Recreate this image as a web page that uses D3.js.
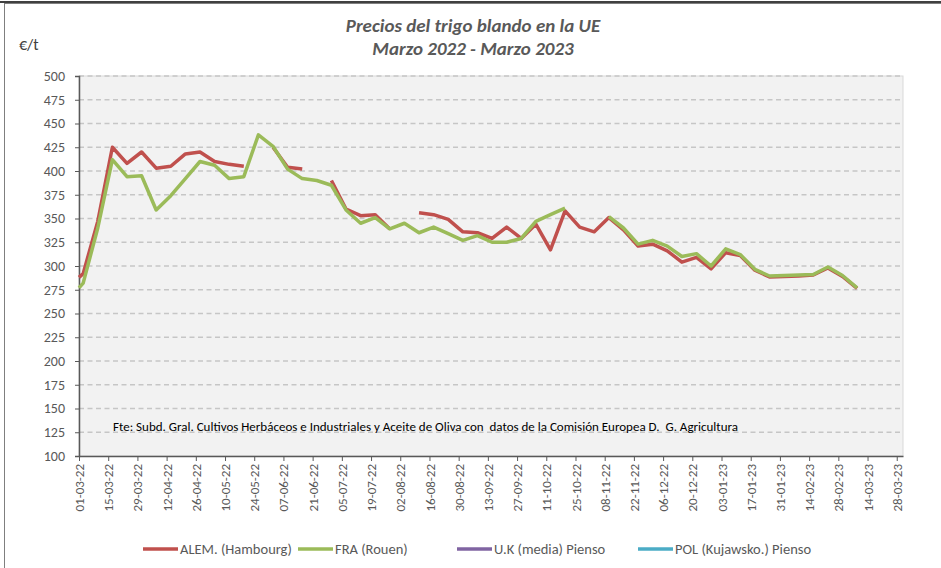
<!DOCTYPE html>
<html>
<head>
<meta charset="utf-8">
<script src="https://cdn.jsdelivr.net/npm/d3@7"></script>
<style>
  body { margin: 0; background: #fff; }
  svg { font-family: Carlito, Calibri, Lato, "Liberation Sans", sans-serif; }
</style>
</head>
<body>
<svg id="chart" width="941" height="568"></svg>
<script>
// Weekly quotations (dd-mm-yy)
const fechas = [
  "01-03-22", "03-03-22", "10-03-22", "17-03-22", "24-03-22", "31-03-22", "07-04-22",
  "14-04-22", "21-04-22", "28-04-22", "05-05-22", "12-05-22", "19-05-22", "26-05-22",
  "02-06-22", "09-06-22", "16-06-22", "23-06-22", "30-06-22", "07-07-22", "14-07-22",
  "21-07-22", "28-07-22", "04-08-22", "11-08-22", "18-08-22", "25-08-22", "01-09-22",
  "08-09-22", "15-09-22", "22-09-22", "29-09-22", "06-10-22", "13-10-22", "20-10-22",
  "27-10-22", "03-11-22", "10-11-22", "17-11-22", "24-11-22", "01-12-22", "08-12-22",
  "15-12-22", "22-12-22", "29-12-22", "05-01-23", "12-01-23", "19-01-23", "26-01-23",
  "02-02-23", "09-02-23", "16-02-23", "23-02-23", "02-03-23", "09-03-23"
];

// ALEM. (Hambourg) €/t, null = no quotation
const alem = [
  288, 292, 347, 425, 408, 420, 403, 405, 418, 420, 410, 407, 405, null,
  425, 404, 402, null, 390, 360, 353, 354, 339, null, 356, 354, 349, 336,
  335, 329, 341, 329, 344, 317, 358, 341, 336, 351, 338, 321, 323, 316,
  304, 309, 297, 314, 311, 295.5, 288.5, 289, 289.5, 290.5, 298, 289, 276.5
];

// FRA (Rouen) €/t
const fra = [
  277, 282, 340, 412, 394, 395, 359, 374, 392, 410, 406, 392, 394, 438,
  426, 402, 392, 390, 385, 359, 345, 351, 339, 345, 335, 341, 334, 327,
  332, 325, 325, 329, 347, 354, 361, null, null, 352, 340, 323, 327, 321,
  310, 313, 300, 318, 312, 296.5, 289.5, 290, 290.5, 291, 299, 290, 277
];

// U.K and POL have no quotations in this period
const uk = fechas.map(() => null);
const pol = fechas.map(() => null);

const series = [
  { name: "ALEM. (Hambourg)", color: "#c0504d", values: alem },
  { name: "FRA (Rouen)", color: "#9bbb59", values: fra },
  { name: "U.K (media) Pienso", color: "#8064a2", values: uk },
  { name: "POL (Kujawsko.) Pienso", color: "#4bacc6", values: pol }
];

const xTicks = [
  "01-03-22", "15-03-22", "29-03-22", "12-04-22", "26-04-22", "10-05-22", "24-05-22",
  "07-06-22", "21-06-22", "05-07-22", "19-07-22", "02-08-22", "16-08-22", "30-08-22",
  "13-09-22", "27-09-22", "11-10-22", "25-10-22", "08-11-22", "22-11-22", "06-12-22",
  "20-12-22", "03-01-23", "17-01-23", "31-01-23", "14-02-23", "28-02-23", "14-03-23",
  "28-03-23"
];
const yTicks = d3.range(100, 501, 25);

const titulo = ["Precios del trigo blando en la UE", "Marzo 2022 - Marzo 2023"];
const fuente = "Fte: Subd. Gral. Cultivos Herbáceos e Industriales y Aceite de Oliva con  datos de la Comisión Europea D.  G. Agricultura";

const parse = d3.timeParse("%d-%m-%y");
const fmt = d3.timeFormat("%d-%m-%y");

const svg = d3.select("#chart");
const plot = { left: 79, right: 903, top: 76, bottom: 456 };

const x = d3.scaleTime()
  .domain([parse("01-03-22"), parse("31-03-23")])
  .range([plot.left, plot.right]);
const y = d3.scaleLinear()
  .domain([100, 500])
  .range([plot.bottom, plot.top]);

// outer chart frame
svg.append("rect")
  .attr("x", 4.5).attr("y", 3.5)
  .attr("width", 945).attr("height", 580)
  .attr("fill", "none")
  .attr("stroke", "#7f7f7f")
  .attr("stroke-width", 1);
svg.append("line")
  .attr("x1", 0).attr("x2", 941).attr("y1", 2).attr("y2", 2)
  .attr("stroke", "#404040").attr("stroke-width", 2);

// plot area
svg.append("rect")
  .attr("x", plot.left).attr("y", plot.top)
  .attr("width", plot.right - plot.left).attr("height", plot.bottom - plot.top)
  .attr("fill", "#f2f2f2")
  .attr("stroke", "#d9d9d9");

// dashed gridlines
svg.append("g")
  .selectAll("line")
  .data(yTicks.filter(v => v > 100))
  .join("line")
  .attr("x1", plot.left).attr("x2", plot.right)
  .attr("y1", d => y(d)).attr("y2", d => y(d))
  .attr("stroke", "#c6c6c6")
  .attr("stroke-width", 1.3)
  .attr("stroke-dasharray", "5,3.5");

// titles
svg.append("g")
  .selectAll("text")
  .data(titulo)
  .join("text")
  .attr("x", 473)
  .attr("y", (d, i) => 32 + i * 23)
  .attr("text-anchor", "middle")
  .attr("font-size", 19)
  .attr("font-weight", "bold")
  .attr("font-style", "italic")
  .attr("fill", "#595959")
  .text(d => d);

svg.append("text")
  .attr("x", 19).attr("y", 50)
  .attr("font-size", 16)
  .attr("fill", "#404040")
  .text("€/t");

// y axis
const yAxis = svg.append("g")
  .attr("transform", `translate(${plot.left},0)`)
  .call(d3.axisLeft(y).tickValues(yTicks).tickSize(4).tickPadding(10));
yAxis.select(".domain").attr("stroke", "#595959").attr("stroke-width", 1.5);
yAxis.selectAll(".tick line").attr("stroke", "#595959");
yAxis.selectAll("text")
  .attr("font-size", 14)
  .attr("fill", "#595959")
  .attr("font-family", "Carlito, Calibri, Lato, sans-serif");

// x axis
const xAxis = svg.append("g")
  .attr("transform", `translate(0,${plot.bottom})`)
  .call(d3.axisBottom(x).tickValues(xTicks.map(parse)).tickFormat(fmt).tickSize(5).tickSizeOuter(0));
xAxis.select(".domain").attr("stroke", "#595959").attr("stroke-width", 1.5);
xAxis.selectAll(".tick line").attr("stroke", "#595959");
xAxis.selectAll("text")
  .attr("font-size", 13)
  .attr("fill", "#595959")
  .attr("font-family", "Carlito, Calibri, Lato, sans-serif")
  .attr("text-anchor", "end")
  .attr("transform", "rotate(-90)")
  .attr("x", -8)
  .attr("y", 0)
  .attr("dy", "0.35em");

// source note
svg.append("text")
  .attr("x", 113).attr("y", 431)
  .attr("font-size", 13)
  .attr("fill", "#000")
  .style("white-space", "pre")
  .text(fuente);

// lines
const dates = fechas.map(parse);
const line = d3.line()
  .defined(d => d.v != null)
  .x(d => x(d.date))
  .y(d => y(d.v));

svg.append("g")
  .selectAll("path")
  .data(series)
  .join("path")
  .attr("d", s => line(s.values.map((v, i) => ({ date: dates[i], v }))))
  .attr("fill", "none")
  .attr("stroke", s => s.color)
  .attr("stroke-width", 3.5)
  .attr("stroke-linejoin", "round");

// legend
const legendX = [143, 298, 457, 638];
const legend = svg.append("g")
  .selectAll("g")
  .data(series)
  .join("g")
  .attr("transform", (d, i) => `translate(${legendX[i]},549)`);
legend.append("line")
  .attr("x1", 0).attr("x2", 35)
  .attr("stroke", d => d.color)
  .attr("stroke-width", 3.5);
legend.append("text")
  .attr("x", 37)
  .attr("dy", "0.35em")
  .attr("font-size", 14.5)
  .attr("fill", "#595959")
  .text(d => d.name);
</script>
</body>
</html>
